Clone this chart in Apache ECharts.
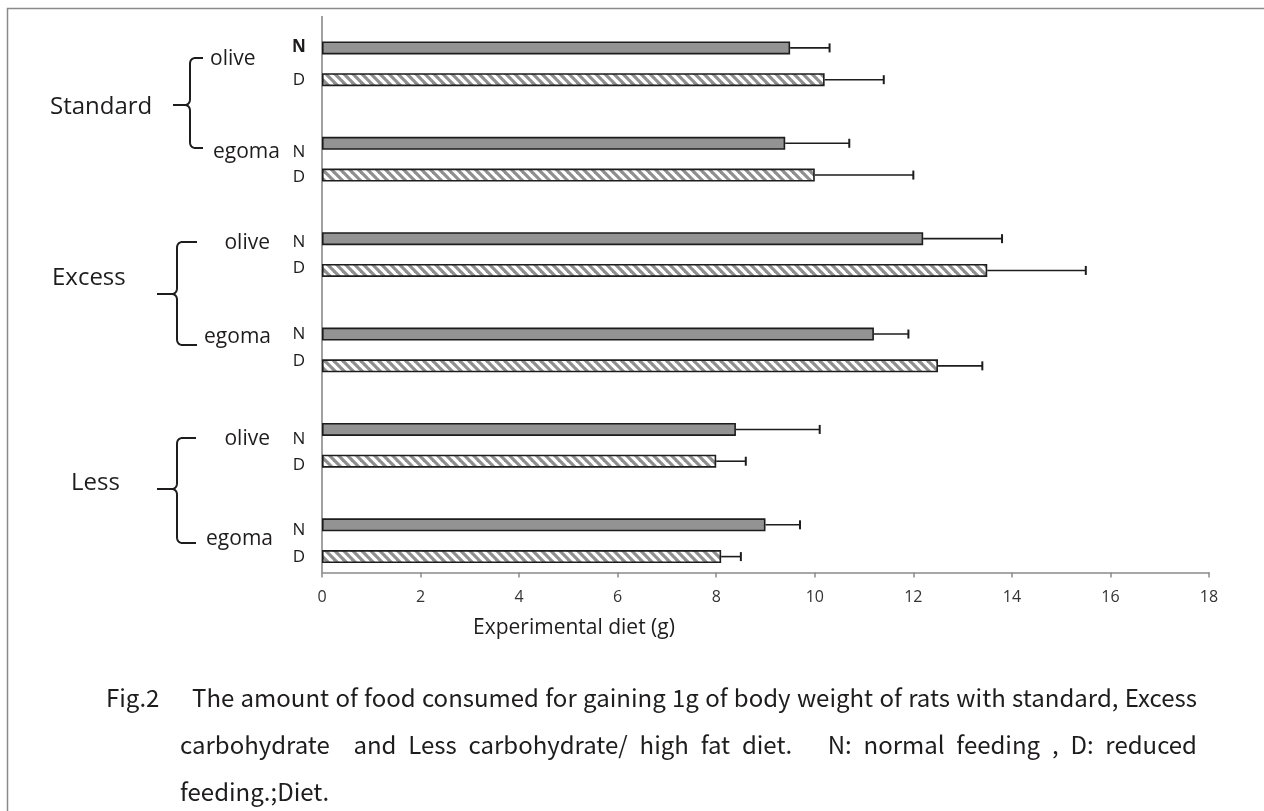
<!DOCTYPE html>
<html><head><meta charset="utf-8">
<script src="https://cdn.jsdelivr.net/npm/echarts@6/dist/echarts.min.js"></script>
<style>html,body{margin:0;padding:0;background:#fff}#c{width:1264px;height:811px}</style>
</head><body><div id="c"></div>
<script>
// ---------------- data ----------------
const groups = ['Standard', 'Excess', 'Less'];
const oils = ['olive', 'egoma'];
const feedings = ['N', 'D'];
// order: Standard-olive, Standard-egoma, Excess-olive, Excess-egoma, Less-olive, Less-egoma
const nValues = [9.5, 9.4, 12.2, 11.2, 8.4, 9.0];
const dValues = [10.2, 10.0, 13.5, 12.5, 8.0, 8.1];
const nErrors = [0.8, 1.3, 1.6, 0.7, 1.7, 0.7];
const dErrors = [1.2, 2.0, 2.0, 0.9, 0.6, 0.4];
const xMin = 0, xMax = 18, xInterval = 2;
const xAxisTitle = 'Experimental diet (g)';
const captionFig = 'Fig.2';
const captionLines = [
  'The amount of food consumed for gaining 1g of body weight of rats with standard, Excess',
  'carbohydrate  and Less carbohydrate/ high fat diet.   N: normal feeding , D: reduced',
  'feeding.;Diet.'
];

// ---------------- categories (with blank gap slots) ----------------
const categories = [];
const nIndex = [], dIndex = [];
let pair = 0;
groups.forEach((g) => {
  oils.forEach((o) => {
    nIndex.push(categories.length); categories.push(g + ' ' + o + ' ' + feedings[0]);
    dIndex.push(categories.length); categories.push(g + ' ' + o + ' ' + feedings[1]);
    pair++;
    if (pair < groups.length * oils.length) categories.push('gap' + pair);
  });
});
const nSeries = categories.map(() => '-');
const dSeries = categories.map(() => '-');
nIndex.forEach((ci, k) => { nSeries[ci] = nValues[k]; });
dIndex.forEach((ci, k) => { dSeries[ci] = dValues[k]; });
const errData = [];
nIndex.forEach((ci, k) => errData.push([ci, nValues[k], nErrors[k]]));
dIndex.forEach((ci, k) => errData.push([ci, dValues[k], dErrors[k]]));

// ---------------- styles / layout ----------------
const INK = '#1e1c1c';
const LABEL_FONT = '"Open Sans", "DejaVu Sans", sans-serif';
const CAP_FONT_FAMILY = '"Noto Sans CJK JP", "Noto Sans", sans-serif';
const gridLeft = 322, gridRight = 55, gridTop = 32, gridBottom = 238.5;

// hatch pattern for D bars
function makeHatch() {
  const s = 9;
  const c = document.createElement('canvas');
  c.width = s; c.height = s;
  const ctx = c.getContext('2d');
  ctx.fillStyle = '#ffffff';
  ctx.fillRect(0, 0, s, s);
  ctx.strokeStyle = '#8f8f8f';
  ctx.lineWidth = 3.2;
  for (const off of [-s, 0, s]) {
    ctx.beginPath();
    ctx.moveTo(-2 + off, -2);
    ctx.lineTo(s + 2 + off, s + 2);
    ctx.stroke();
  }
  return c;
}

const graphics = [];
// outer frame
graphics.push({ type: 'rect', shape: { x: 7.5, y: 8.5, width: 1300, height: 900 },
  style: { fill: null, stroke: '#8a8a8a', lineWidth: 1.5 }, silent: true });
// vertical axis line
graphics.push({ type: 'line', shape: { x1: gridLeft, y1: 16, x2: gridLeft, y2: 811 - gridBottom },
  style: { stroke: '#8a8a8a', lineWidth: 1.6 }, silent: true });

// group labels + braces
const groupLayout = [
  { x: 50, y: 107, bx: 190, top: 58, bottom: 148, hook: 203, cy: 105, tip: 173 },
  { x: 52, y: 278, bx: 177, top: 242, bottom: 345, hook: 197, cy: 294, tip: 157 },
  { x: 71, y: 483, bx: 177, top: 438, bottom: 543, hook: 196, cy: 489, tip: 157 }
];
function quad(p0, c, p1, n) {
  const pts = [];
  for (let i = 0; i <= n; i++) {
    const t = i / n, u = 1 - t;
    pts.push([u * u * p0[0] + 2 * u * t * c[0] + t * t * p1[0], u * u * p0[1] + 2 * u * t * c[1] + t * t * p1[1]]);
  }
  return pts;
}
function bracePolylines(L) {
  const x = L.bx, r = 6;
  const upper = [[L.hook, L.top]]
    .concat(quad([x + r, L.top], [x, L.top], [x, L.top + r], 8))
    .concat(quad([x, L.cy - r], [x, L.cy], [x - r, L.cy], 8))
    .concat([[L.tip, L.cy]]);
  const lower = quad([x - r, L.cy], [x, L.cy], [x, L.cy + r], 8)
    .concat(quad([x, L.bottom - r], [x, L.bottom], [x + r, L.bottom], 8))
    .concat([[L.hook, L.bottom]]);
  return [upper, lower];
}
groups.forEach((g, gi) => {
  const L = groupLayout[gi];
  graphics.push({ type: 'text', x: L.x, y: L.y,
    style: { text: g, fontSize: 24, fontFamily: LABEL_FONT, fill: INK, align: 'left', verticalAlign: 'middle' } });
  bracePolylines(L).forEach(pts => graphics.push({ type: 'polyline', shape: { points: pts },
    style: { fill: null, stroke: INK, lineWidth: 2, lineJoin: 'round' } }));
});

// oil labels
const oilLayout = [
  [{ x: 210, y: 59, a: 'left' }, { x: 213, y: 152, a: 'left' }],
  [{ x: 270, y: 243, a: 'right' }, { x: 271, y: 337, a: 'right' }],
  [{ x: 270, y: 439, a: 'right' }, { x: 273, y: 539, a: 'right' }]
];
groups.forEach((g, gi) => oils.forEach((o, oi) => {
  const P = oilLayout[gi][oi];
  graphics.push({ type: 'text', x: P.x, y: P.y,
    style: { text: o, fontSize: 21, fontFamily: LABEL_FONT, fill: INK, align: P.a, verticalAlign: 'middle' } });
}));

// N / D labels
const ndY = [[47, 80], [152, 177], [242, 268], [334, 361], [439, 465], [530, 557]];
ndY.forEach((pr, k) => feedings.forEach((f, fi) => {
  graphics.push({ type: 'text', x: 299, y: pr[fi],
    style: { text: f, fontSize: 17, fontWeight: (k === 0 && fi === 0) ? 'bold' : 'normal',
      fontFamily: LABEL_FONT, fill: INK, align: 'center', verticalAlign: 'middle' } });
}));

// x axis title
graphics.push({ type: 'text', x: 473, y: 628,
  style: { text: xAxisTitle, fontSize: 21, fontFamily: LABEL_FONT, fill: INK, align: 'left', verticalAlign: 'middle' } });

// caption (justified lines)
const capSize = 24;
const capFont = capSize + 'px ' + CAP_FONT_FAMILY;
const mctx = document.createElement('canvas').getContext('2d');
mctx.font = capFont;
function pushWords(text, x0, x1, y, justify) {
  const words = text.split(' ');
  const widths = words.map(w => mctx.measureText(w).width);
  const total = widths.reduce((a, b) => a + b, 0);
  const spaceW = mctx.measureText(' ').width;
  const gap = justify ? (x1 - x0 - total) / (words.length - 1) : spaceW;
  let x = x0;
  words.forEach((w, i) => {
    if (w) graphics.push({ type: 'text', x: x, y: y,
      style: { text: w, fontSize: capSize, fontFamily: CAP_FONT_FAMILY, fill: INK, align: 'left', verticalAlign: 'middle' } });
    x += widths[i] + gap;
  });
}
graphics.push({ type: 'text', x: 106, y: 698,
  style: { text: captionFig, fontSize: capSize, fontFamily: CAP_FONT_FAMILY, fill: INK, align: 'left', verticalAlign: 'middle' } });
pushWords(captionLines[0], 192, 1197, 698, true);
pushWords(captionLines[1], 180, 1197, 745, true);
pushWords(captionLines[2], 180, 1197, 792, false);

// ---------------- chart ----------------
const chart = echarts.init(document.getElementById('c'), null, { renderer: 'canvas' });
const option = {
  backgroundColor: '#ffffff',
  animation: false,
  grid: { left: gridLeft, right: gridRight, top: gridTop, bottom: gridBottom, containLabel: false, outerBoundsMode: 'none' },
  xAxis: {
    type: 'value', min: xMin, max: xMax, interval: xInterval,
    axisLine: { show: true, lineStyle: { color: '#8a8a8a', width: 1.6 } },
    axisTick: { show: true, length: 5, lineStyle: { color: '#8a8a8a', width: 1.5 } },
    axisLabel: { fontSize: 16, fontFamily: LABEL_FONT, color: '#333333', margin: 17 },
    splitLine: { show: false }
  },
  yAxis: {
    type: 'category', inverse: true, data: categories,
    axisLine: { show: false }, axisTick: { show: false }, axisLabel: { show: false }, splitLine: { show: false }
  },
  series: [
    { name: 'N', type: 'bar', data: nSeries, barWidth: 13, barGap: '-100%',
      itemStyle: { color: '#939393', borderColor: INK, borderWidth: 1.6 } },
    { name: 'D', type: 'bar', data: dSeries, barWidth: 13, barGap: '-100%',
      itemStyle: { color: { image: makeHatch(), repeat: 'repeat' }, borderColor: INK, borderWidth: 1.6 } },
    { name: 'err', type: 'custom', data: errData, encode: { x: 1, y: 0 }, z: 3,
      renderItem: function (params, api) {
        const c = api.value(0), v = api.value(1), e = api.value(2);
        const p0 = api.coord([v, c]);
        const p1 = api.coord([v + e, c]);
        const h = 9;
        return { type: 'group', children: [
          { type: 'line', shape: { x1: p0[0], y1: p0[1], x2: p1[0], y2: p1[1] }, style: { stroke: INK, lineWidth: 1.6 } },
          { type: 'line', shape: { x1: p1[0], y1: p1[1] - h / 2, x2: p1[0], y2: p1[1] + h / 2 }, style: { stroke: INK, lineWidth: 2 } }
        ] };
      } }
  ],
  graphic: graphics
};
chart.setOption(option);
</script>
</body></html>
